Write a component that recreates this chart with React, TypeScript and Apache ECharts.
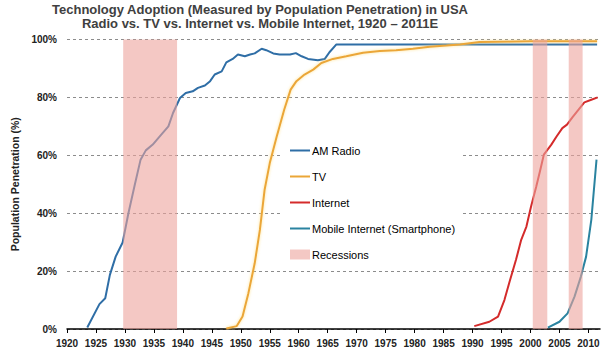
import React, { useEffect, useRef } from "react";
import * as echarts from "echarts";

const titleLines = [
  "Technology Adoption (Measured by Population Penetration) in USA",
  "Radio vs. TV vs. Internet vs. Mobile Internet, 1920 \u2013 2011E",
];

const xTicks = [1920, 1925, 1930, 1935, 1940, 1945, 1950, 1955, 1960, 1965, 1970, 1975, 1980, 1985, 1990, 1995, 2000, 2005, 2010];

const amRadio: [number, number][] = [
  [1923.5, 0.5], [1925.6, 8.6], [1926.6, 10.6], [1927.4, 18.7], [1928.4, 25], [1929.6, 29.9],
  [1930.6, 40], [1931.7, 49.8], [1932.7, 58.5], [1933.6, 61.7], [1934.8, 63.7], [1935.9, 66.3],
  [1937.5, 70], [1938.3, 74.6], [1939.5, 79.8], [1940.5, 81.5], [1941.7, 82.1], [1942.6, 83.3],
  [1943.8, 84.1], [1944.7, 85.6], [1945.5, 87.9], [1946.7, 89], [1947.5, 92.1], [1948.6, 93.3],
  [1949.5, 94.8], [1950.7, 94.2], [1951.6, 94.8], [1952.4, 95.2], [1953.6, 96.8], [1954.4, 96.3],
  [1955.6, 95.2], [1956.7, 94.8], [1958.5, 94.8], [1959.5, 95.3], [1960.5, 94.2], [1961.6, 93.3],
  [1963.3, 92.8], [1964.5, 93.3], [1965.3, 95.6], [1966.5, 98.3], [2011.5, 98.3],
];

const tv: [number, number][] = [
  [1947.5, 0.2], [1949.3, 1], [1950.3, 4.3], [1951.3, 12.3], [1952.4, 22.7], [1953.3, 34.3],
  [1954.1, 48], [1955, 57.3], [1956.2, 66.5], [1957.5, 75.8], [1958.6, 82.7], [1959.6, 85.6],
  [1961, 87.9], [1962.5, 89.6], [1963.9, 91.9], [1965.9, 93.3], [1968.2, 94.2], [1971.1, 95.4],
  [1974, 96], [1976.8, 96.3], [1979.7, 96.8], [1982.6, 97.5], [1985.5, 97.9], [1987.8, 98.3],
  [1991.2, 99.1], [2000, 99.4], [2011.5, 99.4],
];

const internet: [number, number][] = [
  [1990.3, 1], [1992.9, 2.5], [1994.4, 4.3], [1995.5, 10], [1996.4, 16.4], [1997.5, 23.9],
  [1998.4, 30.8], [1999.3, 35.4], [2000.1, 42.3], [2001, 49.2], [2001.7, 55], [2002.3, 60.2],
  [2003.6, 63.7], [2004.5, 66.5], [2005.5, 69.4], [2006.3, 70.6], [2007.3, 73.3], [2008.3, 75.8],
  [2009.3, 78.3], [2010.5, 79.2], [2011.6, 80],
];

const mobileInternet: [number, number][] = [
  [2003, 0.5], [2005, 2.5], [2006.4, 5.4], [2007.6, 11.2], [2008.7, 18.1], [2009.6, 25],
  [2010.5, 37.7], [2011.4, 58.5],
];

const recessions: [number, number][] = [
  [1929.7, 1939],
  [2000.4, 2002.9],
  [2006.6, 2009],
];

const lineIcon = "path://M0,0 M0,4 L20,4 L20,6 L0,6 Z M20,10";

export default function App() {
  const ref = useRef<HTMLDivElement>(null);
  useEffect(() => {
    if (!ref.current) return;
    const chart = echarts.init(ref.current, undefined, { renderer: "svg" });
    const mkLine = (name: string, data: [number, number][], color: string, extra: any = {}) => ({
      name,
      type: "line",
      data,
      symbol: "none",
      showSymbol: false,
      color,
      lineStyle: { color, width: 2 },
      z: 2,
      ...extra,
    });
    chart.setOption({
      animation: false,
      textStyle: { fontFamily: "Arial, 'Liberation Sans', sans-serif" },
      graphic: [
        {
          type: "text",
          x: 260,
          y: 2,
          style: {
            text: titleLines.join("\n"),
            textAlign: "center",
            font: "bold 13px Arial, 'Liberation Sans', sans-serif",
            fill: "#404040",
            lineHeight: 14,
          },
        },
      ],
      grid: { left: 67, right: 15, top: 39.5, bottom: 28 },
      legend: {
        orient: "vertical",
        left: 283,
        top: 135,
        padding: [10, 7, 8, 7],
        itemGap: 15,
        itemWidth: 20,
        itemHeight: 10,
        backgroundColor: "#ffffff",
        textStyle: { fontSize: 11, color: "#000", fontWeight: "normal", padding: [0, 0, 0, -3] },
        itemStyle: { borderWidth: 0 },
        data: [
          { name: "AM Radio", icon: lineIcon },
          { name: "TV", icon: lineIcon },
          { name: "Internet", icon: lineIcon },
          { name: "Mobile Internet (Smartphone)", icon: lineIcon },
          { name: "Recessions", icon: "rect", itemStyle: { color: "#f4c8c4" } },
        ],
      },
      xAxis: {
        type: "value",
        min: 1920,
        max: 2012,
        interval: 5,
        axisLine: { show: true, lineStyle: { color: "#000", width: 1.5 } },
        axisTick: { show: true, length: 4, lineStyle: { color: "#000" }, customValues: xTicks },
        axisLabel: {
          customValues: xTicks,
          fontSize: 10,
          fontWeight: "bold",
          color: "#222",
          margin: 9,
          formatter: (v: number) => String(v),
        },
        splitLine: { show: false },
      },
      yAxis: {
        type: "value",
        min: 0,
        max: 100,
        interval: 20,
        name: "Population Penetration (%)",
        nameLocation: "middle",
        nameGap: 37,
        nameTextStyle: { fontSize: 10.5, fontWeight: "bold", color: "#222" },
        axisLine: { show: false },
        axisTick: { show: false },
        axisLabel: { formatter: "{value}%", fontSize: 10, fontWeight: "bold", color: "#222", margin: 10 },
        splitLine: { show: true, lineStyle: { color: "#8c8c8c", type: [3, 3], width: 1 } },
      },
      series: [
        mkLine("AM Radio", amRadio, "#2f6ea6"),
        mkLine("TV", tv, "#eba637", {
          lineStyle: { color: "#eba637", width: 2, shadowColor: "rgba(255,220,120,0.8)", shadowBlur: 3 },
        }),
        mkLine("Internet", internet, "#d42b2b"),
        mkLine("Mobile Internet (Smartphone)", mobileInternet, "#2a83a0"),
        {
          name: "Recessions",
          type: "line",
          data: [],
          color: "#f4c8c4",
          markArea: {
            silent: true,
            z: 3,
            itemStyle: { color: "rgba(237,163,157,0.6)" },
            data: recessions.map(([a, b]) => [{ xAxis: a }, { xAxis: b }]),
          },
        },
      ],
    });
    return () => chart.dispose();
  }, []);
  return <div ref={ref} style={{ width: 615, height: 357, position: "absolute", left: 0, top: 0 }} />;
}
